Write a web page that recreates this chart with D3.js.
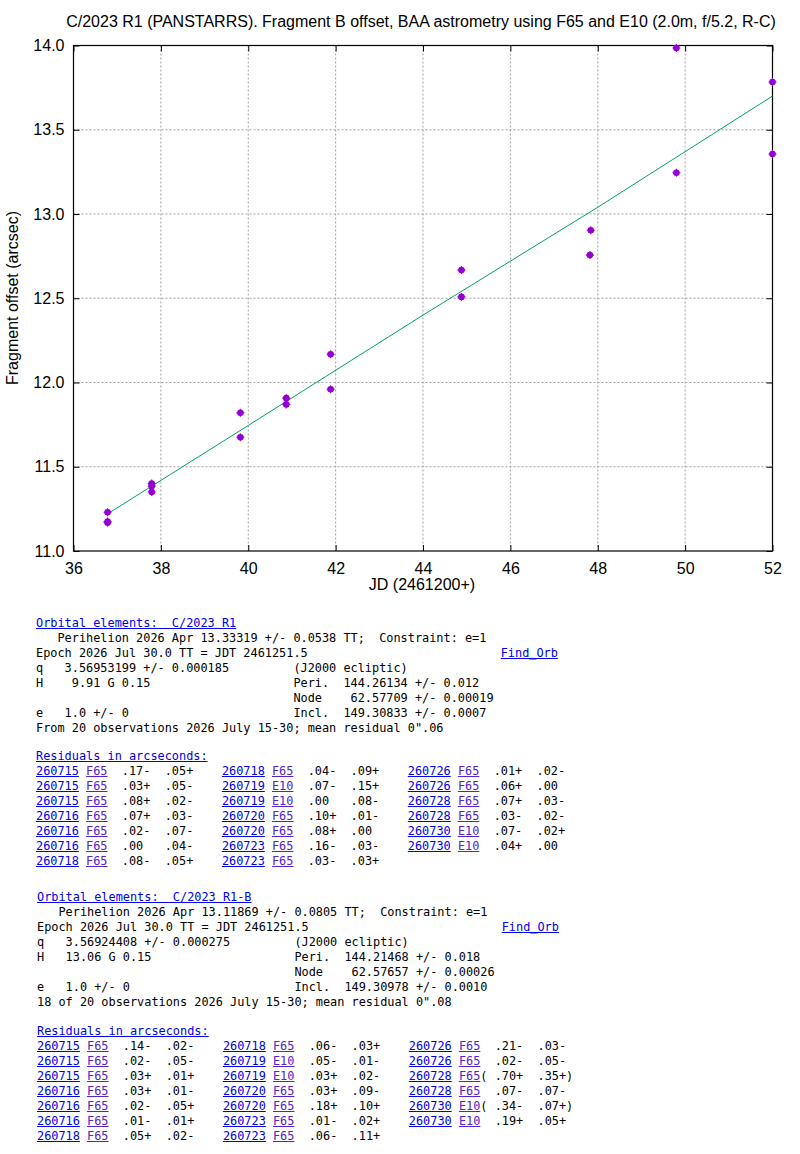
<!DOCTYPE html>
<html>
<head>
<meta charset="utf-8">
<script src="https://cdn.jsdelivr.net/npm/d3@7"></script>
<style>
  body { margin: 0; background: #fff; }
  #page { position: relative; width: 800px; height: 1154px; }
  svg { position: absolute; left: 0; top: 0; }
  .line {
    position: absolute;
    white-space: pre;
    font-family: 'DejaVu Sans Mono', monospace;
    font-size: 11.88px;
    line-height: 15px;
    color: #000;
  }
  .line a { text-decoration: underline; }
  .link { color: #0000ee; }
  .code { color: #5522cc; }
</style>
</head>
<body>
<div id="page"></div>
<script>
// fragment B offset measurements (JD - 2461200, arcsec)
const jd = [36.78, 36.78, 36.78, 37.79, 37.79, 37.79, 39.82, 39.82, 40.87, 40.87,
  41.885, 41.885, 44.88, 44.88, 47.84, 47.82, 49.80, 49.80, 52.0, 52.0]
const offset = [11.23, 11.175, 11.168, 11.40, 11.385, 11.35, 11.82, 11.675, 11.907, 11.87,
  12.168, 11.96, 12.667, 12.508, 12.904, 12.756, 13.985, 13.245, 13.783, 13.356]

// fitted offset curve
const fitJd = [36.84, 40, 44, 48, 52]
const fitOffset = [11.23, 11.745, 12.40, 13.04, 13.70]

const xTicks = [36, 38, 40, 42, 44, 46, 48, 50, 52]
const yTicks = [11.0, 11.5, 12.0, 12.5, 13.0, 13.5, 14.0]

const title = 'C/2023 R1 (PANSTARRS). Fragment B offset, BAA astrometry using F65 and E10 (2.0m, f/5.2, R-C)'
const xLabel = 'JD (2461200+)'
const yLabel = 'Fragment offset (arcsec)'

// orbit text blocks; [..] = link, {..} = station link
const pad = (s, n) => s.padEnd(n)
const orbitA = [
  '[Orbital elements:  C/2023 R1]',
  '   Perihelion 2026 Apr 13.33319 +/- 0.0538 TT;  Constraint: e=1',
  pad('Epoch 2026 Jul 30.0 TT = JDT 2461251.5', 65) + '[Find_Orb]',
  pad('q   3.56953199 +/- 0.000185', 36) + '(J2000 ecliptic)',
  pad('H    9.91 G 0.15', 36) + 'Peri.  144.26134 +/- 0.012',
  pad('', 36) + 'Node    62.57709 +/- 0.00019',
  pad('e   1.0 +/- 0', 36) + 'Incl.  149.30833 +/- 0.0007',
  'From 20 observations 2026 July 15-30; mean residual 0".06',
]
const orbitB = [
  '[Orbital elements:  C/2023 R1-B]',
  '   Perihelion 2026 Apr 13.11869 +/- 0.0805 TT;  Constraint: e=1',
  pad('Epoch 2026 Jul 30.0 TT = JDT 2461251.5', 65) + '[Find_Orb]',
  pad('q   3.56924408 +/- 0.000275', 36) + '(J2000 ecliptic)',
  pad('H   13.06 G 0.15', 36) + 'Peri.  144.21468 +/- 0.018',
  pad('', 36) + 'Node    62.57657 +/- 0.00026',
  pad('e   1.0 +/- 0', 36) + 'Incl.  149.30978 +/- 0.0010',
  '18 of 20 observations 2026 July 15-30; mean residual 0".08',
]

// residuals: date station ra dec (x = excluded)
const residA = [
  '260715 F65 .17- .05+', '260715 F65 .03+ .05-', '260715 F65 .08+ .02-',
  '260716 F65 .07+ .03-', '260716 F65 .02- .07-', '260716 F65 .00 .04-',
  '260718 F65 .08- .05+', '260718 F65 .04- .09+', '260719 E10 .07- .15+',
  '260719 E10 .00 .08-', '260720 F65 .10+ .01-', '260720 F65 .08+ .00',
  '260723 F65 .16- .03-', '260723 F65 .03- .03+', '260726 F65 .01+ .02-',
  '260726 F65 .06+ .00', '260728 F65 .07+ .03-', '260728 F65 .03- .02-',
  '260730 E10 .07- .02+', '260730 E10 .04+ .00',
]
const residB = [
  '260715 F65 .14- .02-', '260715 F65 .02- .05-', '260715 F65 .03+ .01+',
  '260716 F65 .03+ .01-', '260716 F65 .02- .05+', '260716 F65 .01- .01+',
  '260718 F65 .05+ .02-', '260718 F65 .06- .03+', '260719 E10 .05- .01-',
  '260719 E10 .03+ .02-', '260720 F65 .03+ .09-', '260720 F65 .18+ .10+',
  '260723 F65 .01- .02+', '260723 F65 .06- .11+', '260726 F65 .21- .03-',
  '260726 F65 .02- .05-', '260728 F65 .70+ .35+ x', '260728 F65 .07- .07-',
  '260730 E10 .34- .07+ x', '260730 E10 .19+ .05+',
]

const page = d3.select('#page')
const svg = page.append('svg').attr('width', 800).attr('height', 600)
const font = "'Liberation Sans', Arial, sans-serif"

const margins = {top: 45.5, right: 27.5, bottom: 49, left: 73.5}
const width = 800 - margins.left - margins.right
const height = 600 - margins.top - margins.bottom

const x = d3.scaleLinear().domain([36, 52]).range([0, width])
const y = d3.scaleLinear().domain([11, 14]).range([height, 0])

const g = svg.append('g')
  .attr('transform', `translate(${margins.left}, ${margins.top})`)

// grid
g.append('g')
  .selectAll('line')
  .data(xTicks.slice(1, -1))
  .enter()
  .append('line')
  .attr('x1', (d) => x(d)).attr('x2', (d) => x(d))
  .attr('y1', 0).attr('y2', height)
  .attr('stroke', '#a0a0a0').attr('stroke-dasharray', '2,2')
g.append('g')
  .selectAll('line')
  .data(yTicks.slice(1, -1))
  .enter()
  .append('line')
  .attr('y1', (d) => y(d)).attr('y2', (d) => y(d))
  .attr('x1', 0).attr('x2', width)
  .attr('stroke', '#a0a0a0').attr('stroke-dasharray', '2,2')

// axes, ticks pointing inward on every side
const styleAxis = (sel) => {
  sel.select('.domain').remove()
  sel.selectAll('.tick line').attr('stroke', '#000')
  sel.selectAll('.tick text').attr('font-family', font).attr('font-size', 16).attr('fill', '#000')
}
g.append('g')
  .attr('transform', `translate(0, ${height})`)
  .call(d3.axisBottom(x).tickValues(xTicks).tickSizeInner(-6).tickPadding(12).tickFormat(d3.format('d')))
  .call(styleAxis)
g.append('g')
  .call(d3.axisTop(x).tickValues(xTicks).tickSizeInner(-6).tickFormat(''))
  .call(styleAxis)
g.append('g')
  .call(d3.axisLeft(y).tickValues(yTicks).tickSizeInner(-6).tickPadding(9).tickFormat(d3.format('.1f')))
  .call(styleAxis)
g.append('g')
  .attr('transform', `translate(${width}, 0)`)
  .call(d3.axisRight(y).tickValues(yTicks).tickSizeInner(-6).tickFormat(''))
  .call(styleAxis)

g.append('rect')
  .attr('width', width).attr('height', height)
  .attr('fill', 'none').attr('stroke', '#000').attr('stroke-width', 1.2)

// fit line
const line = d3.line().x((d) => x(d[0])).y((d) => y(d[1]))
g.append('path')
  .datum(d3.zip(fitJd, fitOffset))
  .attr('d', line)
  .attr('fill', 'none')
  .attr('stroke', '#009e73')
  .attr('stroke-width', 1)

// points
const pts = g.append('g').selectAll('g')
  .data(d3.zip(jd, offset))
  .enter()
  .append('g')
  .attr('transform', (d) => `translate(${x(d[0])}, ${y(d[1])})`)
pts.append('circle').attr('r', 3.3).attr('fill', '#9400d3')
pts.append('path').attr('d', 'M-4,0H4M0,-4V4')
  .attr('stroke', '#9400d3').attr('stroke-width', 1.1)

// titles
svg.append('text')
  .attr('x', 421).attr('y', 26.7)
  .attr('text-anchor', 'middle')
  .attr('font-family', font).attr('font-size', 16)
  .text(title)
svg.append('text')
  .attr('x', 422).attr('y', 590)
  .attr('text-anchor', 'middle')
  .attr('font-family', font).attr('font-size', 16)
  .text(xLabel)
svg.append('text')
  .attr('transform', 'translate(17.5, 298) rotate(-90)')
  .attr('text-anchor', 'middle')
  .attr('font-family', font).attr('font-size', 16)
  .text(yLabel)

// text below the chart
function writeLine(str, left, top) {
  const div = page.append('div').attr('class', 'line')
    .style('left', left + 'px').style('top', top + 'px')
  const re = /\[([^\]]*)\]|\{([^}]*)\}|([^[{]+)/g
  let m
  while ((m = re.exec(str)) !== null) {
    if (m[1] !== undefined) div.append('a').attr('class', 'link').text(m[1])
    else if (m[2] !== undefined) div.append('a').attr('class', 'code').text(m[2])
    else div.append('span').text(m[3])
  }
}

function residCell(s) {
  const [date, code, ra, dec, flag] = s.split(' ')
  const out = flag ? '(' : ' '
  const close = flag ? ')' : ' '
  return `[${date}] {${code}}${out} ${ra.padEnd(4)}  ${dec.padEnd(4)}${close}`
}

function residRows(res) {
  const cols = [res.slice(0, 7), res.slice(7, 14), res.slice(14)]
  return d3.range(7).map((i) => cols
    .map((c) => (c[i] ? residCell(c[i]) : ''))
    .filter((t) => t)
    .join('   '))
}

const lineStep = 15
function writeBlock(lines, left, centerY) {
  lines.forEach((l, i) => writeLine(l, left, centerY + i * lineStep - 7))
}

writeBlock(orbitA, 36, 623.3)
writeBlock(['[Residuals in arcseconds:]'].concat(residRows(residA)), 36, 756)
writeBlock(orbitB, 37, 897.3)
writeBlock(['[Residuals in arcseconds:]'].concat(residRows(residB)), 37, 1030.5)
</script>
</body>
</html>
